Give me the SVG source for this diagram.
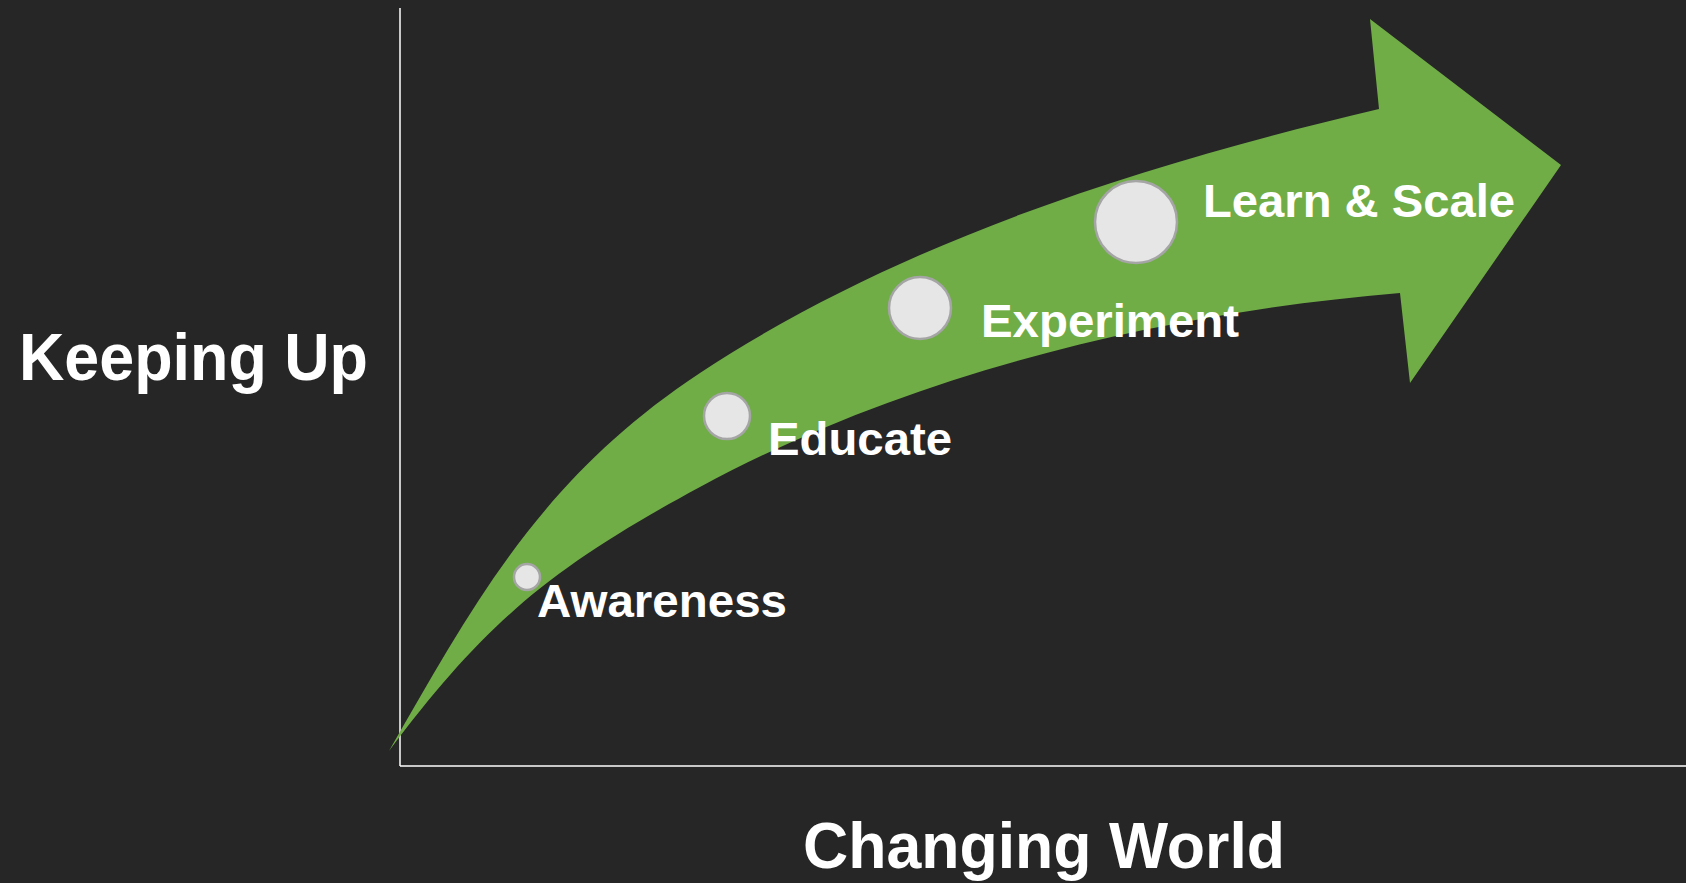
<svg xmlns="http://www.w3.org/2000/svg" width="1686" height="883" viewBox="0 0 1686 883">
  <style>
    .lbl { font-family: "Liberation Sans", Arial, sans-serif; font-weight: bold; fill: #FFFFFF; }
    .dot { fill: #E7E6E6; stroke: #A5A5A5; stroke-width: 2.5; }
    .axis { stroke: #FFFFFF; stroke-width: 1.5; fill: none; }
  </style>
  <rect x="0" y="0" width="1686" height="883" fill="#262626"/>
  <g id="axes">
    <line class="axis" x1="400" y1="8" x2="400" y2="766"/>
    <line class="axis" x1="400" y1="766" x2="1686" y2="766"/>
  </g>
  <g id="arrow">
    <path fill="#70AD47" d="M389,751 C474,603 541,478 700,373 C900,241 1145,164 1379,109 L1370,19 L1561,165 L1410,383 L1400,293 C1162,313 911,373 700,487 C550,568 485,623 389,751 Z"/>
  </g>
  <g id="awareness">
    <circle class="dot" cx="527" cy="577" r="13"/>
    <text class="lbl" x="537" y="617" font-size="46" textLength="250" lengthAdjust="spacingAndGlyphs">Awareness</text>
  </g>
  <g id="educate">
    <circle class="dot" cx="727" cy="416" r="23"/>
    <text class="lbl" x="768" y="455" font-size="46" textLength="184" lengthAdjust="spacingAndGlyphs">Educate</text>
  </g>
  <g id="experiment">
    <circle class="dot" cx="920" cy="308" r="31"/>
    <text class="lbl" x="981" y="337" font-size="46" textLength="258" lengthAdjust="spacingAndGlyphs">Experiment</text>
  </g>
  <g id="learn-scale">
    <circle class="dot" cx="1136" cy="222" r="41"/>
    <text class="lbl" x="1203" y="217" font-size="46" textLength="312" lengthAdjust="spacingAndGlyphs">Learn &amp; Scale</text>
  </g>
  <g id="y-label">
    <text class="lbl" x="19" y="380" font-size="66" textLength="349" lengthAdjust="spacingAndGlyphs">Keeping Up</text>
  </g>
  <g id="x-label">
    <text class="lbl" x="803" y="868" font-size="65" textLength="482" lengthAdjust="spacingAndGlyphs">Changing World</text>
  </g>
</svg>
